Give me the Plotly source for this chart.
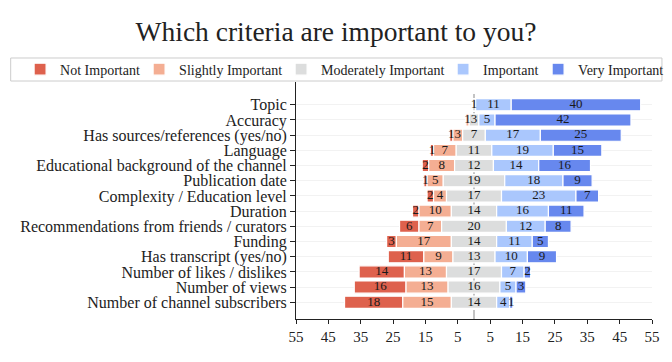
import plotly.graph_objects as go

categories = ["Topic", "Accuracy", "Has sources/references (yes/no)", "Language",
              "Educational background of the channel", "Publication date",
              "Complexity / Education level", "Duration",
              "Recommendations from friends / curators", "Funding",
              "Has transcript (yes/no)", "Number of likes / dislikes",
              "Number of views", "Number of channel subscribers"]

not_important = [0, 0, 1, 1, 2, 1, 2, 2, 6, 3, 11, 14, 16, 18]
slightly_important = [0, 1, 3, 7, 8, 5, 4, 10, 7, 17, 9, 13, 13, 15]
moderately_important = [1, 3, 7, 11, 12, 19, 17, 14, 20, 14, 13, 17, 16, 14]
important = [11, 5, 17, 19, 14, 18, 23, 16, 12, 11, 10, 7, 5, 4]
very_important = [40, 42, 25, 15, 16, 9, 7, 11, 8, 5, 9, 2, 3, 1]

series_names = ["Not Important", "Slightly Important", "Moderately Important",
                "Important", "Very Important"]
colors = ["#de614d", "#f4ae93", "#dcdddd", "#aac7fd", "#6788ee"]
legend_widths = [74, 97, 117, 50, 81]

tick_vals = [-55, -45, -35, -25, -15, -5, 5, 15, 25, 35, 45, 55]
tick_text = ["55", "45", "35", "25", "15", "5", "5", "15", "25", "35", "45", "55"]

FONT = "Liberation Serif"

# bases for a diverging stack centred on the middle of "Moderately Important"
b_mod = [-m / 2 for m in moderately_important]
b_sl = [b - s for b, s in zip(b_mod, slightly_important)]
b_not = [b - n for b, n in zip(b_sl, not_important)]
b_imp = [m / 2 for m in moderately_important]
b_very = [b + i for b, i in zip(b_imp, important)]

values = [not_important, slightly_important, moderately_important, important, very_important]
bases = [b_not, b_sl, b_mod, b_imp, b_very]

fig = go.Figure()
for name, vals, base, col, lw in zip(series_names, values, bases, colors, legend_widths):
    fig.add_trace(go.Bar(
        y=categories, x=vals, base=base, orientation="h", name=name,
        marker=dict(color=col, line=dict(color="white", width=1.2)),
        width=0.8, hoverinfo="skip", legendwidth=lw,
    ))
for vals, base in zip(values, bases):
    xs, ys, ts = [], [], []
    for c, v, b in zip(categories, vals, base):
        if v > 0:
            xs.append(b + v / 2)
            ys.append(c)
            ts.append(str(v))
    fig.add_trace(go.Scatter(
        x=xs, y=ys, text=ts, mode="text", showlegend=False,
        textfont=dict(family=FONT, size=13, color="#1a1a1a"),
        textposition="middle center", hoverinfo="skip",
    ))

# dashed zero line
fig.add_shape(type="line", x0=0, x1=0, xref="x", yref="paper", y0=0, y1=0.98,
              line=dict(color="#b0b0b0", width=1.5, dash="dash"), layer="below")
# legend frame
fig.add_shape(type="rect", xref="paper", yref="paper",
              x0=-0.8014, x1=1.028, y0=1.0042, y1=1.1013,
              line=dict(color="#cccccc", width=1), fillcolor="rgba(0,0,0,0)",
              layer="above")

fig.update_layout(
    width=672, height=362,
    margin=dict(l=296, r=20, t=82, b=43, autoexpand=False),
    paper_bgcolor="white", plot_bgcolor="white",
    barmode="overlay",
    font=dict(family=FONT, color="#222222"),
    title=dict(text="Which criteria are important to you?", x=0.5, xref="container",
               xanchor="center", y=0.912, yanchor="middle",
               font=dict(family=FONT, size=27.5, color="#222222")),
    legend=dict(orientation="h", xref="paper", yref="paper",
                x=-0.775, xanchor="left", y=1.120, yanchor="top",
                bgcolor="rgba(0,0,0,0)", borderwidth=0,
                font=dict(family=FONT, size=14, color="#222222"),
                traceorder="normal", itemclick=False),
    xaxis=dict(range=[-55, 55], tickvals=tick_vals, ticktext=tick_text,
               showline=True, linecolor="#222222", linewidth=1,
               ticks="outside", ticklen=4, tickcolor="#222222",
               showgrid=False, zeroline=False,
               tickfont=dict(family=FONT, size=15, color="#222222")),
    yaxis=dict(categoryorder="array", categoryarray=categories,
               range=[14.1, -1.5], autorange=False, dtick=1,
               showline=True, linecolor="#222222", linewidth=1,
               ticks="outside", ticklen=5, tickcolor="#222222",
               showgrid=True, gridcolor="#f2f2f2", gridwidth=1,
               zeroline=False,
               tickfont=dict(family=FONT, size=16, color="#222222")),
)

fig.write_html("out.html", config={"displayModeBar": False},
               post_script="document.body.style.margin='0';document.body.style.overflow='hidden';")
